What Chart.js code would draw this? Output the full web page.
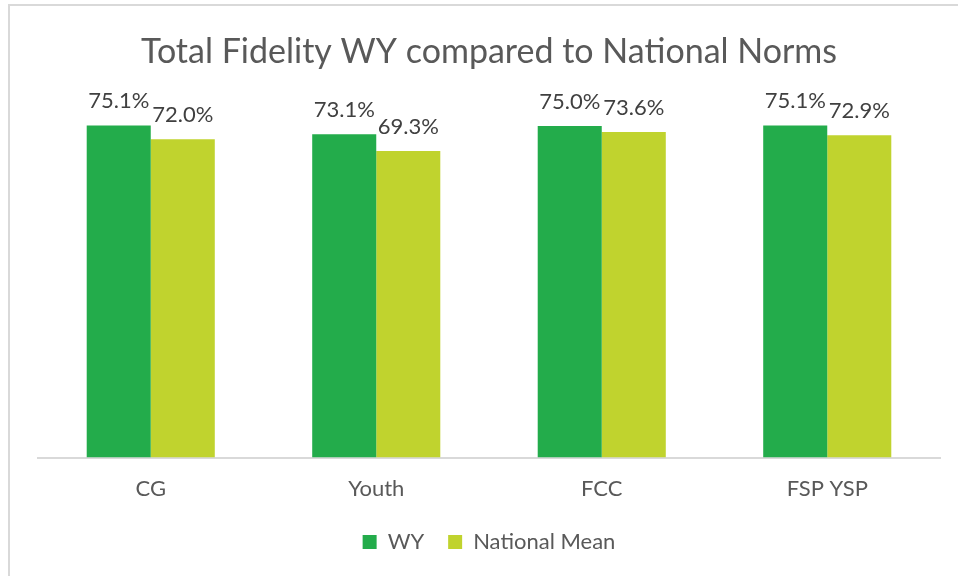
<!DOCTYPE html>
<html>
<head>
<meta charset="utf-8">
<script src="https://cdn.jsdelivr.net/npm/chart.js@4.4.1/dist/chart.umd.min.js"></script>
<style>
  html, body { margin: 0; padding: 0; background: #fff; }
  #wrap { position: relative; width: 958px; height: 576px; overflow: hidden; }
  #frame {
    position: absolute; left: 8px; top: 4px; width: 1000px; height: 700px;
    border-left: 2px solid #d9d9d9; border-top: 2px solid #d9d9d9;
  }
  #myChart { position: absolute; left: 0; top: 0; }
</style>
</head>
<body>
<div id="wrap">
  <div id="frame"></div>
  <canvas id="myChart" width="958" height="576"></canvas>
</div>
<script>
const categories = ["CG", "Youth", "FCC", "FSP YSP"];
const wyValues = [75.1, 73.1, 75.0, 75.1];
const nationalValues = [72.0, 69.3, 73.6, 72.9];
const seriesNames = ["WY", "National Mean"];

const FONT = "Lato, 'Open Sans', sans-serif";

// value labels above every bar
const barLabels = {
  id: "barLabels",
  afterDatasetsDraw(chart) {
    const ctx = chart.ctx;
    ctx.save();
    ctx.font = "22px " + FONT;
    ctx.fillStyle = "#404040";
    ctx.textAlign = "center";
    ctx.textBaseline = "alphabetic";
    chart.data.datasets.forEach((ds, i) => {
      chart.getDatasetMeta(i).data.forEach((bar, j) => {
        ctx.fillText(ds.data[j].toFixed(1) + "%", bar.x, bar.y - 17);
      });
    });
    ctx.restore();
  }
};

new Chart("myChart", {
  type: "bar",
  data: {
    labels: categories,
    datasets: [
      {
        label: seriesNames[0],
        data: wyValues,
        backgroundColor: "#23ac4b",
        categoryPercentage: 0.568,
        barPercentage: 1
      },
      {
        label: seriesNames[1],
        data: nationalValues,
        backgroundColor: "#c0d32e",
        categoryPercentage: 0.568,
        barPercentage: 1
      }
    ]
  },
  options: {
    responsive: false,
    animation: false,
    layout: { padding: { left: 38, right: 18, top: 0, bottom: 13 } },
    plugins: {
      title: {
        display: true,
        text: "Total Fidelity WY compared to National Norms",
        color: "#595959",
        font: { family: FONT, size: 34, weight: "normal" },
        padding: { top: 32, bottom: 31 }
      },
      legend: {
        position: "bottom",
        labels: {
          boxWidth: 14,
          boxHeight: 14,
          padding: 24,
          color: "#595959",
          font: { family: FONT, size: 22 }
        }
      },
      tooltip: { enabled: false }
    },
    scales: {
      x: {
        grid: { display: false },
        border: { color: "#d9d9d9", width: 2 },
        ticks: {
          color: "#595959",
          padding: 10,
          font: { family: FONT, size: 22 }
        },
        afterFit(scale) { scale.height -= 5; }
      },
      y: {
        display: false,
        min: 0,
        max: 80
      }
    }
  },
  plugins: [barLabels]
});
</script>
</body>
</html>
